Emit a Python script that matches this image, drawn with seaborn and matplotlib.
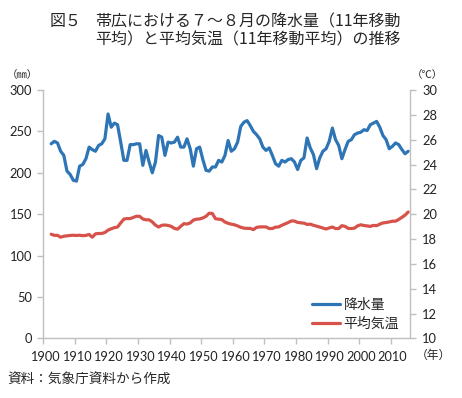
import numpy as np
import pandas as pd
import matplotlib
matplotlib.use("Agg")
import matplotlib.pyplot as plt
import seaborn as sns

# ============================
# データ
# ============================
YEARS = list(range(1902, 2016))

RAIN = [
    235, 238, 236, 226, 221, 202, 198, 191, 190, 208,
    210, 217, 231, 228, 226, 233, 235, 241, 271, 255,
    260, 258, 237, 215, 215, 234, 234, 235, 235, 209,
    227, 213, 200, 213, 245, 243, 221, 237, 236, 237,
    243, 231, 231, 241, 229, 208, 229, 231, 216, 203,
    202, 207, 207, 215, 213, 221, 239, 226, 229, 237,
    256, 261, 263, 257, 250, 246, 241, 231, 227, 230,
    221, 211, 208, 215, 213, 216, 217, 213, 204, 215,
    218, 242, 230, 222, 205, 218, 226, 229, 238, 254,
    240, 233, 217, 228, 238, 240, 246, 248, 249, 252,
    251, 258, 260, 262, 255, 245, 240, 229, 232, 236,
    234, 228, 223, 226,
]

TEMP = [
    18.39, 18.30, 18.30, 18.15, 18.23, 18.26, 18.29, 18.31, 18.29, 18.31,
    18.27, 18.30, 18.37, 18.15, 18.42, 18.45, 18.45, 18.53, 18.72, 18.83,
    18.92, 18.97, 19.30, 19.61, 19.65, 19.65, 19.74, 19.84, 19.83, 19.62,
    19.55, 19.55, 19.38, 19.12, 18.97, 19.11, 19.13, 19.10, 19.02, 18.86,
    18.80, 19.03, 19.24, 19.21, 19.30, 19.53, 19.60, 19.62, 19.70, 19.83,
    20.08, 20.06, 19.64, 19.60, 19.57, 19.37, 19.27, 19.20, 19.15, 19.06,
    18.95, 18.88, 18.86, 18.86, 18.76, 18.94, 18.98, 18.98, 18.98, 18.85,
    18.85, 18.96, 18.98, 19.11, 19.22, 19.33, 19.46, 19.45, 19.34, 19.31,
    19.28, 19.18, 19.20, 19.11, 19.04, 18.97, 18.89, 18.81, 18.90, 18.97,
    18.85, 18.85, 19.08, 19.02, 18.86, 18.85, 18.88, 19.07, 19.15, 19.09,
    19.06, 19.02, 19.10, 19.08, 19.20, 19.30, 19.33, 19.38, 19.44, 19.44,
    19.58, 19.75, 19.93, 20.18,
]

RAIN_TICKS = [0, 50, 100, 150, 200, 250, 300]
TEMP_TICKS = [10, 12, 14, 16, 18, 20, 22, 24, 26, 28, 30]
DECADES = list(range(1900, 2011, 10))

TITLE_1 = "帯広における７～８月の降水量（11年移動"
TITLE_2 = "平均）と平均気温（11年移動平均）の推移"
SOURCE = "資料：気象庁資料から作成"

BLUE = "#2E75B6"
RED = "#D6524A"
AXIS_GRAY = "#BFBFBF"
JP = ["Noto Sans CJK JP", "DejaVu Sans"]

# ============================
# 描画
# ============================
sns.set_style("white")
plt.rcParams["font.family"] = ["Lato", "Noto Sans CJK JP", "DejaVu Sans"]

df = pd.DataFrame({"year": YEARS, "rain": RAIN, "temp": TEMP})

fig = plt.figure(figsize=(4.62, 3.98), dpi=100)
ax = fig.add_axes([0.0937, 0.1495, 0.7933, 0.6245])
ax2 = ax.twinx()

sns.lineplot(data=df, x="year", y="rain", ax=ax, color=BLUE, lw=2.3,
             label="降水量", legend=False)
sns.lineplot(data=df, x="year", y="temp", ax=ax2, color=RED, lw=2.3,
             label="平均気温", legend=False)

ax.set_xlim(1899.5, 2015.5)
ax.set_ylim(0, 300)
ax2.set_ylim(10, 30)
ax.set_xlabel("")
ax.set_ylabel("")
ax2.set_ylabel("")

ax.set_yticks(RAIN_TICKS)
ax2.set_yticks(TEMP_TICKS)
ax.set_xticks(DECADES)
ax.set_xticks([d - 0.5 for d in DECADES], minor=True)

for a in (ax, ax2):
    a.grid(False)
    a.spines["top"].set_visible(False)
    for s in ("left", "right", "bottom"):
        a.spines[s].set_color(AXIS_GRAY)
        a.spines[s].set_linewidth(1.0)
ax.spines["right"].set_visible(False)
ax2.spines["left"].set_visible(False)
ax2.spines["bottom"].set_visible(False)

ax.tick_params(axis="y", which="major", direction="out", length=4, width=1,
               color=AXIS_GRAY, labelsize=9.3, labelcolor="#222222", pad=4,
               left=True)
ax2.tick_params(axis="y", which="major", direction="out", length=4, width=1,
                color=AXIS_GRAY, labelsize=9.3, labelcolor="#222222", pad=5,
                right=True)
ax.tick_params(axis="x", which="major", length=0, labelsize=9.2,
               labelcolor="#222222", pad=9, bottom=True)
ax.tick_params(axis="x", which="minor", direction="out", length=4, width=1,
               color=AXIS_GRAY, bottom=True)

h1, l1 = ax.get_legend_handles_labels()
h2, l2 = ax2.get_legend_handles_labels()
leg = ax2.legend(h1 + h2, l1 + l2, loc="lower left",
                 bbox_to_anchor=(0.70, -0.02), frameon=False,
                 prop={"family": JP, "size": 10}, handlelength=2.0,
                 handletextpad=0.25, labelspacing=0.35)

# タイトル・単位・出典
fig.text(0.108, 0.945, "図５", family=JP, fontsize=11.5, va="center")
fig.text(0.206, 0.945, TITLE_1, family=JP, fontsize=11.5, va="center")
fig.text(0.206, 0.899, TITLE_2, family=JP, fontsize=11.5, va="center")
fig.text(0.048, 0.812, "（㎜）", family=JP, fontsize=7.5, ha="center",
         va="center")
fig.text(0.924, 0.812, "（℃）", family=JP, fontsize=7.5, ha="center",
         va="center")
fig.text(0.939, 0.106, "（年）", family=JP, fontsize=8.5, ha="center",
         va="center")
fig.text(0.015, 0.045, SOURCE, family=JP, fontsize=9.8, va="center")

fig.savefig("out.png", dpi=100)
plt.close(fig)
